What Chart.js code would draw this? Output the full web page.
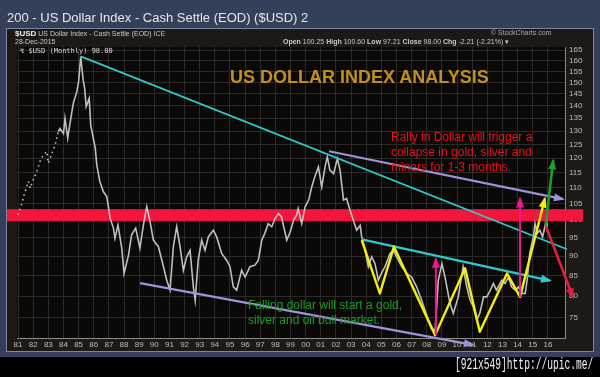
<!DOCTYPE html>
<html>
<head>
<meta charset="utf-8">
<script src="https://cdn.jsdelivr.net/npm/chart.js@4.4.1/dist/chart.umd.min.js"></script>
<style>
  html, body { margin: 0; padding: 0; background: #000; }
  #wrap { position: relative; width: 600px; height: 377px; overflow: hidden; background: #000; font-family: "Liberation Sans", Arial, sans-serif; }
  #outer { position: absolute; left: 0; top: 0; width: 600px; height: 357px; background: #34405a; }
  #panel { position: absolute; left: 6px; top: 28px; width: 586px; height: 322px; background: #1d1a16; border: 1px solid #7b86a0; }
  #c { position: absolute; left: 0; top: 0; }
  .t { position: absolute; white-space: nowrap; }
</style>
</head>
<body>
<div id="wrap">
  <div id="outer"></div>
  <div id="panel"></div>
  <canvas id="c" width="600" height="377"></canvas>
  <div class="t" style="left:7px;top:10px;font-size:13px;color:#e6e6e6;">200 - US Dollar Index - Cash Settle (EOD) ($USD) 2</div>
  <div class="t" style="left:15px;top:29px;font-size:7px;color:#c8c8c8;"><b style="font-size:8px;color:#eee">$USD</b> US Dollar Index - Cash Settle (EOD) ICE</div>
  <div class="t" style="left:15px;top:38px;font-size:7px;color:#c8c8c8;">28-Dec-2015</div>
  <div class="t" style="left:491px;top:29px;font-size:7px;color:#aaa;">&#169; StockCharts.com</div>
  <div class="t" style="left:283px;top:38px;font-size:7px;color:#c8c8c8;"><b>Open</b> 100.25 <b>High</b> 100.60 <b>Low</b> 97.21 <b>Close</b> 98.00 <b>Chg</b> -2.21 (-2.21%) &#9662;</div>
  <div class="t" style="left:20px;top:47px;font-size:7px;color:#ddd;font-family:'DejaVu Sans Mono',monospace;">&#8623; $USD (Monthly) 98.00</div>
  <div class="t" style="left:230px;top:67px;font-size:18px;font-weight:bold;color:#c1901c;">US DOLLAR INDEX ANALYSIS</div>
  <div class="t" style="left:391px;top:130px;font-size:12px;line-height:15px;color:#e8101c;">Rally in Dollar will trigger a<br>collapse in gold, silver and<br>miners for 1-3 months.</div>
  <div class="t" style="left:248px;top:298px;font-size:12px;line-height:15px;color:#1c9a2c;">Falling dollar will start a gold,<br>silver and oil bull market.</div>
  <div class="t" style="left:455px;top:356px;font-size:16px;color:#f0f0f0;font-family:'Liberation Mono',monospace;transform:scaleX(0.6);transform-origin:0 0;">[921x549]http://upic.me/</div>
</div>
<script>
// US Dollar Index, monthly closes
var years = [1981.00,1981.25,1981.46,1981.68,1981.80,1982.00,1982.20,1982.45,1982.67,1982.90,
  1983.00,1983.20,1983.45,1983.66,1983.77,1984.00,1984.10,1984.28,1984.43,1984.65,1984.88,
  1985.00,1985.14,1985.30,1985.40,1985.50,1985.70,1985.80,1986.10,1986.20,1986.40,1986.63,1986.86,
  1987.08,1987.30,1987.40,1987.60,1987.85,1988.00,1988.30,1988.50,1988.77,1989.05,1989.28,1989.50,
  1989.72,1989.94,1990.27,1990.50,1990.82,1991.04,1991.26,1991.48,1991.70,1991.92,1992.14,1992.36,
  1992.58,1992.70,1992.90,1993.13,1993.35,1993.57,1993.90,1994.12,1994.45,1994.78,1995.00,1995.22,
  1995.44,1995.77,1996.00,1996.32,1996.65,1996.87,1997.10,1997.30,1997.53,1997.76,1997.97,1998.20,
  1998.40,1998.75,1998.97,1999.20,1999.40,1999.50,1999.74,1999.96,2000.20,2000.40,2000.60,2000.84,
  2001.06,2001.28,2001.43,2001.60,2001.84,2002.10,2002.27,2002.50,2002.70,2002.93,2003.15,2003.37,
  2003.60,2003.70,2003.85,2004.14,2004.36,2004.58,2004.80,2005.00,2005.24,2005.57,2005.80,2006.00,
  2006.35,2006.67,2007.00,2007.33,2007.66,2008.00,2008.30,2008.55,2008.76,2009.00,2009.20,2009.53,
  2009.75,2010.08,2010.40,2010.64,2010.86,2011.08,2011.30,2011.50,2011.75,2011.96,2012.20,2012.40,
  2012.60,2012.95,2013.17,2013.40,2013.60,2013.84,2014.06,2014.30,2014.50,2014.63,2014.80,2015.04,
  2015.15,2015.30,2015.47,2015.65,2015.80,2015.90,2015.96];
var closes = [101.6,105.1,108.8,112.1,109.9,112.6,114.8,118.9,121.2,122.4,
  118.3,121.2,124.8,129.8,131.0,129.1,135.0,127.3,133.0,141.1,146.0,
  150.4,161.9,151.0,147.4,139.7,143.1,132.3,123.6,117.7,112.1,108.8,107.2,
  100.6,97.7,94.8,98.6,92.1,85.5,90.3,95.8,97.7,92.1,98.6,104.1,
  99.6,94.3,92.5,88.9,83.8,81.4,92.5,98.1,92.5,86.3,89.8,91.5,
  82.2,79.0,88.9,94.3,91.5,95.2,97.1,95.2,90.7,88.9,87.2,82.2,
  81.4,86.3,84.6,87.2,87.6,88.9,94.3,96.2,99.0,98.1,100.5,102.0,
  101.0,94.3,96.5,100.0,101.5,103.5,99.0,104.0,106.1,110.3,113.6,117.0,
  110.3,117.0,120.5,115.9,114.7,119.9,115.9,106.1,106.6,103.0,100.0,97.1,
  98.5,95.2,93.0,87.2,89.8,88.0,83.8,85.5,87.2,90.7,91.5,89.8,
  87.2,85.5,84.6,82.2,79.0,75.5,72.7,72.3,83.8,88.0,84.6,78.3,
  76.0,79.8,87.2,82.2,79.0,77.5,74.5,76.0,79.8,79.8,81.4,83.0,
  81.4,83.8,83.0,84.6,82.2,81.4,82.2,80.6,80.6,83.8,90.7,95.2,
  99.0,96.2,97.1,95.2,98.1,100.0,98.0];

var yearTicks = [];
for (var yr = 1981; yr <= 2016; yr++) yearTicks.push(yr);
var priceTicks = [75,80,85,90,95,100,105,110,115,120,125,130,135,140,145,150,155,160,165];

// drawn annotations, [year, index value]
var resistBand = [99.7, 103.3];
var cyanUpper = [[1985.14,162.0],[2017.26,91.8]];
var cyanLower = [[2003.70,94.5],[2016.14,83.7]];
var purpleUpper = [[2001.54,122.5],[2017.00,106.4]];
var purpleLower = [[1989.06,83.1],[2011.05,69.3]];
var zigzag = [[2003.70,94.3],[2004.90,80.6],[2005.83,92.5],[2008.55,71.3],[2010.53,86.8],
  [2011.50,72.0],[2013.30,85.5],[2014.16,79.8],[2015.80,106.6]];
var pinkOne = [[2008.60,71.3],[2008.60,89.3]];
var pinkTwo = [[2014.16,79.8],[2014.16,106.6]];
var greenUp = [[2015.85,98.5],[2016.35,119.3]];
var redDown = [[2015.85,98.5],[2017.66,79.7]];

var points = years.map(function(y, i) { return {x: y, y: closes[i]}; });

function drawPath(chart, pts, color, width, arrow) {
    var ctx = chart.ctx, xs = chart.scales.x, ys = chart.scales.y;
    var px = pts.map(function(p) { return [xs.getPixelForValue(p[0]), ys.getPixelForValue(p[1])]; });
    ctx.save();
    ctx.strokeStyle = color;
    ctx.fillStyle = color;
    ctx.lineWidth = width;
    ctx.lineJoin = 'round';
    ctx.beginPath();
    ctx.moveTo(px[0][0], px[0][1]);
    for (var i = 1; i < px.length; i++) ctx.lineTo(px[i][0], px[i][1]);
    ctx.stroke();
    if (arrow) {
        var a = px[px.length - 2], b = px[px.length - 1];
        var ang = Math.atan2(b[1] - a[1], b[0] - a[0]);
        var len = 9, half = 4;
        ctx.beginPath();
        ctx.moveTo(b[0] + Math.cos(ang) * 2, b[1] + Math.sin(ang) * 2);
        ctx.lineTo(b[0] - Math.cos(ang) * len - Math.sin(ang) * half, b[1] - Math.sin(ang) * len + Math.cos(ang) * half);
        ctx.lineTo(b[0] - Math.cos(ang) * len + Math.sin(ang) * half, b[1] - Math.sin(ang) * len - Math.cos(ang) * half);
        ctx.closePath();
        ctx.fill();
    }
    ctx.restore();
}

var annotations = {
    id: 'annotations',
    beforeDraw: function(chart) {
        var ctx = chart.ctx, a = chart.chartArea;
        ctx.save();
        ctx.fillStyle = '#0b0907';
        ctx.fillRect(a.left, a.top, a.right - a.left, a.bottom - a.top);
        ctx.restore();
    },
    beforeDatasetsDraw: function(chart) {
        var ctx = chart.ctx, a = chart.chartArea, ys = chart.scales.y;
        var top = ys.getPixelForValue(resistBand[1]), bot = ys.getPixelForValue(resistBand[0]);
        ctx.save();
        ctx.fillStyle = '#f2163f';
        ctx.fillRect(a.left - 10, top, a.right - a.left + 28, bot - top);
        ctx.restore();
    },
    afterDatasetsDraw: function(chart) {
        drawPath(chart, cyanUpper, '#2ec9cf', 1.8, false);
        drawPath(chart, purpleUpper, '#9c93da', 2.2, true);
        drawPath(chart, purpleLower, '#9c93da', 2.2, true);
        drawPath(chart, cyanLower, '#2ec9cf', 2.2, true);
        drawPath(chart, zigzag, '#f4ef0c', 2.4, true);
        drawPath(chart, pinkOne, '#ea1a8e', 2, true);
        drawPath(chart, pinkTwo, '#ea1a8e', 2, true);
        drawPath(chart, greenUp, '#1f9e24', 2.6, true);
        drawPath(chart, redDown, '#e3203c', 2.6, true);
    }
};

new Chart(document.getElementById('c').getContext('2d'), {
    type: 'line',
    data: {
        datasets: [{
            data: points,
            borderColor: 'rgba(200,200,200,0.95)',
            borderWidth: 1.6,
            pointRadius: 0,
            tension: 0,
            // early months show up as scattered ticks in the original
            segment: {
                borderDash: function(c) { return c.p0.parsed.x < 1983.6 ? [1.5, 3.5] : undefined; }
            }
        }]
    },
    options: {
        responsive: false,
        animation: false,
        layout: { padding: { left: 17, top: 47, right: 0, bottom: 17 } },
        plugins: { legend: { display: false }, tooltip: { enabled: false } },
        scales: {
            x: {
                type: 'linear',
                min: 1980.93,
                max: 2017.13,
                afterFit: function(s) { s.height = 22; },
                afterBuildTicks: function(s) { s.ticks = yearTicks.map(function(v) { return {value: v}; }); },
                ticks: {
                    color: '#bdbdbd',
                    font: { size: 8, family: 'Liberation Sans' },
                    padding: 2,
                    maxRotation: 0,
                    autoSkip: false,
                    callback: function(v) { return String(v % 100).padStart(2, '0'); }
                },
                grid: { color: '#2c2a28', drawTicks: false },
                border: { color: '#8a8a8a' }
            },
            y: {
                type: 'logarithmic',
                position: 'right',
                min: 70.7,
                max: 166.5,
                afterFit: function(s) { s.width = 35; },
                afterBuildTicks: function(s) { s.ticks = priceTicks.map(function(v) { return {value: v}; }); },
                ticks: {
                    color: '#bdbdbd',
                    font: { size: 8, family: 'Liberation Sans' },
                    padding: 4,
                    autoSkip: false,
                    callback: function(v) { return String(v); }
                },
                grid: { color: '#2c2a28', drawTicks: false },
                border: { color: '#8a8a8a' }
            }
        }
    },
    plugins: [annotations]
});
</script>
</body>
</html>
